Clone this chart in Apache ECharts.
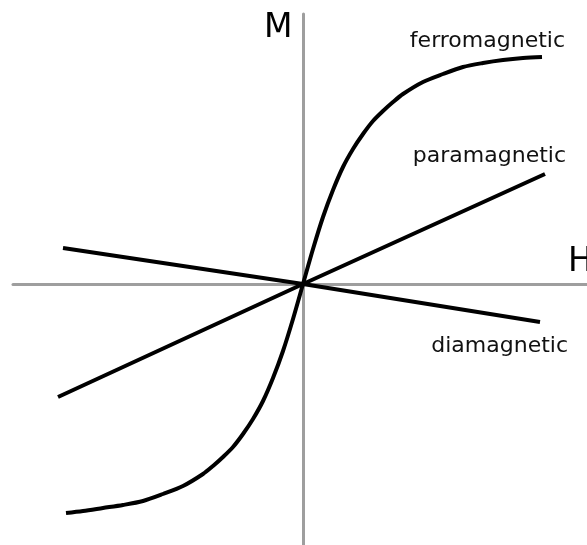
<!DOCTYPE html>
<html>
<head>
<meta charset="utf-8">
<script src="https://cdn.jsdelivr.net/npm/echarts@6/dist/echarts.min.js"></script>
<style>
  html, body { margin: 0; padding: 0; background: #fff; }
  #chart { width: 587px; height: 545px; }
</style>
</head>
<body>
<div id="chart"></div>
<script>
// Magnetisation M against applied field H (arbitrary units)
const ferroH = [-11.85, -11, -10, -9, -8, -7, -6, -5, -4.5, -4, -3.5, -3, -2.5, -2, -1.5, -1, -0.5,
                0, 0.5, 1, 1.5, 2, 2.5, 3, 3.5, 4, 4.5, 5, 6, 7, 8, 9, 10, 11, 11.95];
const ferroM = [-11.45, -11.35, -11.2, -11.05, -10.85, -10.5, -10.1, -9.5, -9.1, -8.65, -8.15, -7.5, -6.75, -5.85, -4.7, -3.35, -1.75,
                0, 1.75, 3.35, 4.7, 5.85, 6.75, 7.5, 8.15, 8.65, 9.1, 9.5, 10.1, 10.5, 10.85, 11.05, 11.2, 11.3, 11.35];

const paraH = [-12.25, 0, 12.1];
const paraM = [-5.65, 0, 5.5];

const diaH = [-12.0, 0, 11.85];
const diaM = [1.8, 0, -1.9];

const labels = ['ferromagnetic', 'paramagnetic', 'diamagnetic'];
const axisNames = ['H', 'M'];

const pairs = (xs, ys) => xs.map((x, i) => [x, ys[i]]);

const chart = echarts.init(document.getElementById('chart'), null, { renderer: 'canvas' });

const lineStyle = { color: '#000', width: 4 };
const axisLine = { show: true, onZero: true, lineStyle: { color: '#9e9e9e', width: 3 } };

const font = (size) => size + 'px "DejaVu Sans", sans-serif';

chart.setOption({
  animation: false,
  backgroundColor: '#fff',
  grid: { left: 13, right: 0, top: 14, bottom: 0, containLabel: false },
  xAxis: {
    type: 'value', min: -14.5, max: 14.2,
    axisLine: axisLine, axisTick: { show: false }, axisLabel: { show: false }, splitLine: { show: false }
  },
  yAxis: {
    type: 'value', min: -13.05, max: 13.5,
    axisLine: axisLine, axisTick: { show: false }, axisLabel: { show: false }, splitLine: { show: false }
  },
  series: [
    { name: labels[0], type: 'line', smooth: 0.3, symbol: 'none', clip: false, lineStyle: lineStyle, data: pairs(ferroH, ferroM) },
    { name: labels[1], type: 'line', symbol: 'none', clip: false, lineStyle: lineStyle, data: pairs(paraH, paraM) },
    { name: labels[2], type: 'line', symbol: 'none', clip: false, lineStyle: lineStyle, data: pairs(diaH, diaM) }
  ],
  graphic: [
    { type: 'text', style: { x: 264, y: 28, text: axisNames[1], font: font(33), fill: '#000', align: 'left', verticalAlign: 'middle' } },
    { type: 'text', style: { x: 568, y: 262, text: axisNames[0], font: font(33), fill: '#000', align: 'left', verticalAlign: 'middle' } },
    { type: 'text', style: { x: 565, y: 41, text: labels[0], font: font(22), fill: '#111', align: 'right', verticalAlign: 'middle' } },
    { type: 'text', style: { x: 566, y: 156, text: labels[1], font: font(22), fill: '#111', align: 'right', verticalAlign: 'middle' } },
    { type: 'text', style: { x: 568, y: 346, text: labels[2], font: font(22), fill: '#111', align: 'right', verticalAlign: 'middle' } }
  ]
});
</script>
</body>
</html>
